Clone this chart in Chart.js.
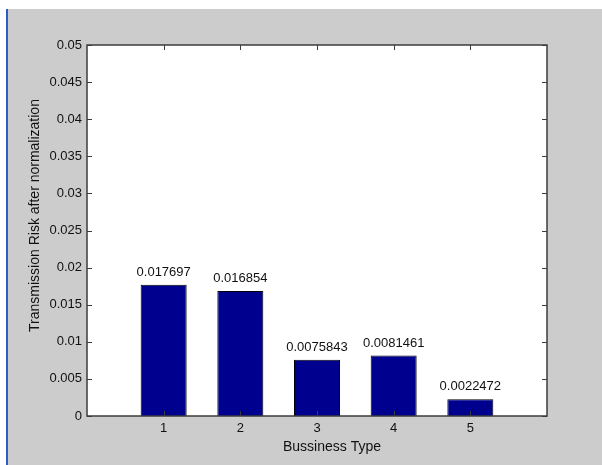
<!DOCTYPE html>
<html>
<head>
<meta charset="utf-8">
<script src="https://cdn.jsdelivr.net/npm/chart.js@4/dist/chart.umd.min.js"></script>
<style>
  html, body { margin: 0; padding: 0; background: #ffffff; }
  #wrap { width: 602px; height: 465px; position: relative; }
</style>
</head>
<body>
<div id="wrap"><canvas id="c" width="602" height="465"></canvas></div>
<script>
// Business types and their normalized transmission risk
const categories = [1, 2, 3, 4, 5];
const riskValues = [0.017697, 0.016854, 0.0075843, 0.0081461, 0.0022472];
const yTicks = [0, 0.005, 0.01, 0.015, 0.02, 0.025, 0.03, 0.035, 0.04, 0.045, 0.05];
const xTitle = 'Bussiness Type';
const yTitle = 'Transmission Risk after normalization';

const FAMILY = '"Liberation Sans", Arial, Helvetica, sans-serif';
const FONT = { family: FAMILY, size: 13 };
const TITLE_FONT = '14px ' + FAMILY;
const TEXT_COLOR = '#111111';
const AXIS_COLOR = '#3c3c3c';

// Figure background: grey panel with a thin blue edge on the left
const figureBackground = {
  id: 'figureBackground',
  beforeDraw(chart) {
    const ctx = chart.ctx;
    ctx.save();
    ctx.fillStyle = '#ffffff';
    ctx.fillRect(0, 0, chart.width, chart.height);
    ctx.fillStyle = '#cccccc';
    ctx.fillRect(8, 9, chart.width - 8, chart.height - 9);
    ctx.fillStyle = '#2f5bc4';
    ctx.fillRect(6, 9, 2, chart.height - 9);
    const a = chart.chartArea;
    ctx.fillStyle = '#ffffff';
    ctx.fillRect(a.left, a.top, a.right - a.left, a.bottom - a.top);
    ctx.restore();
  }
};

// Axes box with inward tick marks on all four sides, plus axis titles
const axesBox = {
  id: 'axesBox',
  afterDatasetsDraw(chart) {
    const ctx = chart.ctx;
    const a = chart.chartArea;
    const xs = chart.scales.x, ys = chart.scales.y;
    const len = 5;
    ctx.save();
    ctx.strokeStyle = AXIS_COLOR;
    ctx.lineWidth = 1;
    ctx.beginPath();
    yTicks.forEach(v => {
      const py = Math.round(ys.getPixelForValue(v)) + 0.5;
      ctx.moveTo(a.left, py); ctx.lineTo(a.left + len, py);
      ctx.moveTo(a.right, py); ctx.lineTo(a.right - len, py);
    });
    categories.forEach(v => {
      const px = Math.round(xs.getPixelForValue(v)) + 0.5;
      ctx.moveTo(px, a.bottom); ctx.lineTo(px, a.bottom - len);
      ctx.moveTo(px, a.top); ctx.lineTo(px, a.top + len);
    });
    ctx.stroke();
    ctx.lineWidth = 1.5;
    ctx.strokeRect(a.left, a.top, a.right - a.left, a.bottom - a.top);

    // axis titles
    ctx.font = TITLE_FONT;
    ctx.fillStyle = TEXT_COLOR;
    ctx.textAlign = 'center';
    ctx.textBaseline = 'middle';
    ctx.fillText(xTitle, (a.left + a.right) / 2 + 15, a.bottom + 31);
    ctx.translate(35, (a.top + a.bottom) / 2 - 15);
    ctx.rotate(-Math.PI / 2);
    ctx.fillText(yTitle, 0, 0);
    ctx.restore();
  }
};

// Value labels above each bar
const barValueLabels = {
  id: 'barValueLabels',
  afterDatasetsDraw(chart) {
    const ctx = chart.ctx;
    const meta = chart.getDatasetMeta(0);
    ctx.save();
    ctx.font = FONT.size + 'px ' + FONT.family;
    ctx.fillStyle = TEXT_COLOR;
    ctx.textAlign = 'center';
    ctx.textBaseline = 'bottom';
    meta.data.forEach((bar, i) => {
      const text = String(Number(riskValues[i].toPrecision(5)));
      ctx.fillText(text, bar.x, bar.y - 6);
    });
    ctx.restore();
  }
};

new Chart(document.getElementById('c'), {
  type: 'bar',
  data: {
    datasets: [{
      data: categories.map((c, i) => ({ x: c, y: riskValues[i] })),
      backgroundColor: '#00008f',
      borderColor: '#000000',
      borderWidth: 1,
      barPercentage: 0.6,
      categoryPercentage: 1.0
    }]
  },
  options: {
    responsive: false,
    animation: false,
    devicePixelRatio: 1,
    layout: { padding: { top: 45, right: 55, left: 0, bottom: 0 } },
    plugins: { legend: { display: false }, tooltip: { enabled: false } },
    scales: {
      x: {
        type: 'linear',
        offset: false,
        min: 0, max: 6,
        afterBuildTicks: s => { s.ticks = categories.map(v => ({ value: v })); },
        afterFit: s => { s.height = 49; },
        grid: { display: false, drawTicks: false, offset: false },
        border: { display: false },
        ticks: { font: FONT, color: TEXT_COLOR, padding: 5, maxRotation: 0,
                 callback: v => String(v) }
      },
      y: {
        min: 0, max: 0.05,
        afterBuildTicks: s => { s.ticks = yTicks.map(v => ({ value: v })); },
        afterFit: s => { s.width = 87; },
        grid: { display: false, drawTicks: false },
        border: { display: false },
        ticks: { font: FONT, color: TEXT_COLOR, padding: 5,
                 callback: v => String(Number(v.toFixed(3))) }
      }
    }
  },
  plugins: [figureBackground, axesBox, barValueLabels]
});
</script>
</body>
</html>
